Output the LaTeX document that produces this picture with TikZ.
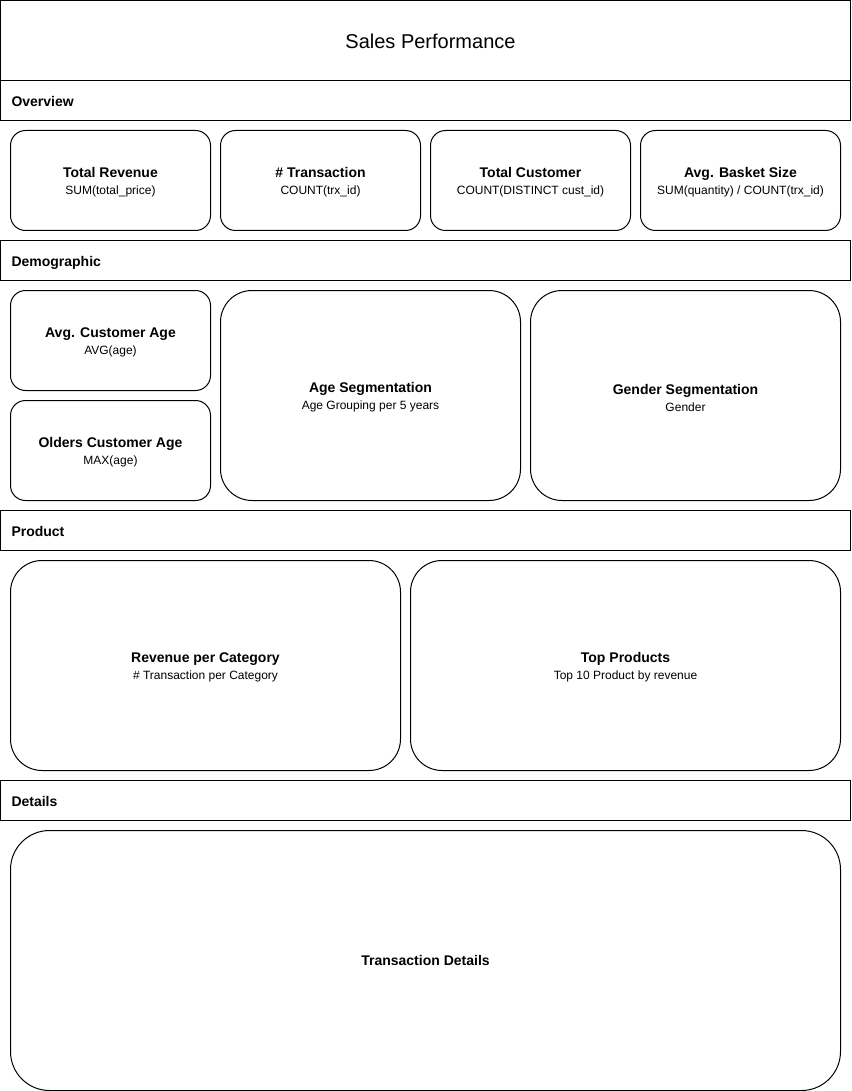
\documentclass[tikz,border=0pt]{standalone}
\usepackage{fontspec}
\setmainfont{Liberation Sans}
\begin{document}
\begin{tikzpicture}[x=1pt,y=-1pt,line width=1pt,
  box/.style={draw,rectangle,inner sep=0pt},
  txt/.style={align=center,inner sep=0pt,font=\fontsize{12}{17}\selectfont,yshift=-2pt},
  bar/.style={draw,rectangle,minimum width=850pt,minimum height=40pt,text width=828pt,align=left,inner xsep=11pt,inner ysep=0pt,text height=12pt,text depth=0pt,font=\fontsize{14}{16}\selectfont\bfseries},
  cardsm/.style={box,rounded corners=15pt,minimum width=200pt,minimum height=100pt},
  cardlg/.style={box,rounded corners=31.5pt,minimum height=210pt}
]
\useasboundingbox (0,0) rectangle (851,1091);
% title
\node[draw,rectangle,minimum width=850pt,minimum height=80pt] (title) at (425.5,40.5) {};
\node[font=\fontsize{20}{24}\selectfont,inner sep=0pt] (titletext) at (430.5,41.5) {Sales Performance};
% section bars
\node[bar] (overview) at (425.5,100.5) {Overview};
\node[bar] (demo) at (425.5,260.5) {Demographic};
\node[bar] (product) at (425.5,530.5) {Product};
\node[bar] (details) at (425.5,800.5) {Details};
% overview cards
\node[cardsm,label={[txt,name=revt]center:{{\fontsize{14}{17}\selectfont\bfseries Total Revenue}\\SUM(total\_price)}}] (rev) at (110.5,180.5) {};
\node[cardsm,label={[txt,name=trxt]center:{{\fontsize{14}{17}\selectfont\bfseries \# Transaction}\\COUNT(trx\_id)}}] (trx) at (320.5,180.5) {};
\node[cardsm,label={[txt,name=custt]center:{{\fontsize{14}{17}\selectfont\bfseries Total Customer}\\COUNT(DISTINCT cust\_id)}}] (cust) at (530.5,180.5) {};
\node[cardsm,label={[txt,name=baskett]center:{{\fontsize{14}{17}\selectfont\bfseries Avg. Basket Size}\\SUM(quantity) / COUNT(trx\_id)}}] (basket) at (740.5,180.5) {};
% demographic
\node[cardsm,label={[txt,name=avgaget]center:{{\fontsize{14}{17}\selectfont\bfseries Avg. Customer Age}\\AVG(age)}}] (avgage) at (110.5,340.5) {};
\node[cardsm,label={[txt,name=oldaget]center:{{\fontsize{14}{17}\selectfont\bfseries Olders Customer Age}\\MAX(age)}}] (oldage) at (110.5,450.5) {};
\node[cardlg,minimum width=300pt,label={[txt,name=agesegt]center:{{\fontsize{14}{17}\selectfont\bfseries Age Segmentation}\\Age Grouping per 5 years}}] (ageseg) at (370.5,395.5) {};
\node[cardlg,minimum width=310pt,label={[txt,name=gendert]center:{{\fontsize{14}{17}\selectfont\bfseries Gender Segmentation}\\Gender}}] (gender) at (685.5,395.5) {};
% product
\node[cardlg,minimum width=390pt,label={[txt,name=revcatt]center:{{\fontsize{14}{17}\selectfont\bfseries Revenue per Category}\\\# Transaction per Category}}] (revcat) at (205.5,665.5) {};
\node[cardlg,minimum width=430pt,label={[txt,name=topt]center:{{\fontsize{14}{17}\selectfont\bfseries Top Products}\\Top 10 Product by revenue}}] (top) at (625.5,665.5) {};
% details
\node[box,rounded corners=39pt,minimum width=830pt,minimum height=260pt,label={[txt,name=trxdett,yshift=2pt,font=\fontsize{14}{17}\selectfont\bfseries]center:Transaction Details}] (trxdet) at (425.5,960.5) {};
\end{tikzpicture}
\end{document}
